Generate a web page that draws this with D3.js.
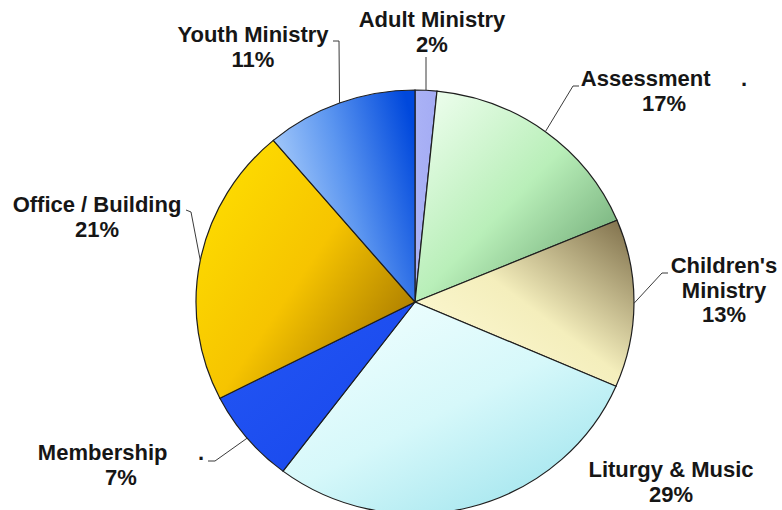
<!DOCTYPE html>
<html>
<head>
<meta charset="utf-8">
<script src="https://cdn.jsdelivr.net/npm/d3@7"></script>
<style>
body { margin: 0; background: #fff; }
</style>
</head>
<body>
<div id="chart"></div>
<script>
// slices, clockwise from 12 o'clock
var categories = ["Adult Ministry", "Assessment", "Children's Ministry", "Liturgy & Music", "Membership", "Office / Building", "Youth Ministry"];
var values = [1.6, 17.1, 12.8, 28.8, 7.2, 21.3, 11.2];

// fill of each slice: gradient stops, direction in bounding box units
var fills = [
	{ stops: ["#aab2f6", "#a4acf4"], dir: [0, 0, 1, 0] },
	{ stops: ["#f2fff2", "#b9efb9", "#5c9764"], dir: [0, 0, 1, 1] },
	{ stops: ["#fffcda", "#f4eebc", "#7a6a46"], dir: [0, 1, 1, 0] },
	{ stops: ["#f2ffff", "#d6f8fa", "#9ae2ec"], dir: [0.1, 0, 0.9, 1] },
	{ stops: ["#2457f4", "#1746ec"], dir: [0, 0, 1, 1] },
	{ stops: ["#ffe000", "#f6c400", "#986a00"], dir: [0, 0.1, 1, 0.9] },
	{ stops: ["#b6d6fc", "#5c96f0", "#0048dc"], dir: [0, 0.6, 1, 0.2] }
];

// label placement, one per slice (first baseline, centre x, leader waypoints)
var labelLayout = [
	{ x: 432, y: 27, lines: ["Adult Ministry"], leader: [[426, 57]] },
	{ x: 664, y: 86, lines: ["Assessment\u00a0\u00a0\u00a0\u00a0\u00a0."], leader: [[573, 86], [579, 86]] },
	{ x: 724, y: 273, lines: ["Children's", "Ministry"], leader: [[662, 273], [668, 273]] },
	{ x: 671, y: 477, lines: ["Liturgy & Music"], leader: null },
	{ x: 121, y: 460, lines: ["Membership\u00a0\u00a0\u00a0\u00a0\u00a0."], leader: [[215, 461], [208, 461]] },
	{ x: 97, y: 212, lines: ["Office / Building"], leader: [[191, 212], [186, 210]] },
	{ x: 253, y: 42, lines: ["Youth Ministry"], leader: [[339, 41], [333, 41]] }
];

var W = 782, H = 510;
var cx = 415, cy = 302, rx = 219, ry = 212;
var lineH = 24.5;

var svg = d3.select("#chart").append("svg")
	.attr("width", W)
	.attr("height", H);

var defs = svg.append("defs");
fills.forEach(function (f, i) {
	var lg = defs.append("linearGradient")
		.attr("id", "grad" + i)
		.attr("x1", f.dir[0]).attr("y1", f.dir[1])
		.attr("x2", f.dir[2]).attr("y2", f.dir[3]);
	f.stops.forEach(function (c, k) {
		lg.append("stop")
			.attr("offset", (k / (f.stops.length - 1) * 100) + "%")
			.attr("stop-color", c);
	});
});

var pie = d3.pie().sort(null).value(function (d) { return d; });
var arcs = pie(values);
var arc = d3.arc().innerRadius(0).outerRadius(ry);

// the pie in the picture is a bit wider than tall
var g = svg.append("g")
	.attr("transform", "translate(" + cx + "," + cy + ") scale(" + (rx / ry) + ",1)");

g.selectAll("path")
	.data(arcs)
	.enter().append("path")
	.attr("d", arc)
	.attr("fill", function (d, i) { return "url(#grad" + i + ")"; })
	.attr("stroke", "#1e1e1e")
	.attr("stroke-width", 1.2)
	.attr("vector-effect", "non-scaling-stroke");

var rim = function (a) {
	return [cx + rx * Math.sin(a), cy - ry * Math.cos(a)];
};

var line = d3.line();
arcs.forEach(function (d, i) {
	var lay = labelLayout[i];
	if (lay.leader) {
		var mid = (d.startAngle + d.endAngle) / 2;
		var pts = [rim(mid)].concat(lay.leader);
		svg.append("path")
			.attr("d", line(pts))
			.attr("fill", "none")
			.attr("stroke", "#3a3a3a")
			.attr("stroke-width", 1);
	}
	var t = svg.append("text")
		.attr("x", lay.x)
		.attr("y", lay.y)
		.attr("text-anchor", "middle")
		.style("font-family", "'Liberation Sans', Arial, sans-serif")
		.style("font-weight", "bold")
		.style("font-size", "22px")
		.style("fill", "#161616");
	var rows = lay.lines.concat([Math.round(values[i]) + "%"]);
	rows.forEach(function (r, k) {
		t.append("tspan")
			.attr("x", lay.x)
			.attr("dy", k === 0 ? 0 : lineH)
			.text(r);
	});
});
</script>
</body>
</html>
